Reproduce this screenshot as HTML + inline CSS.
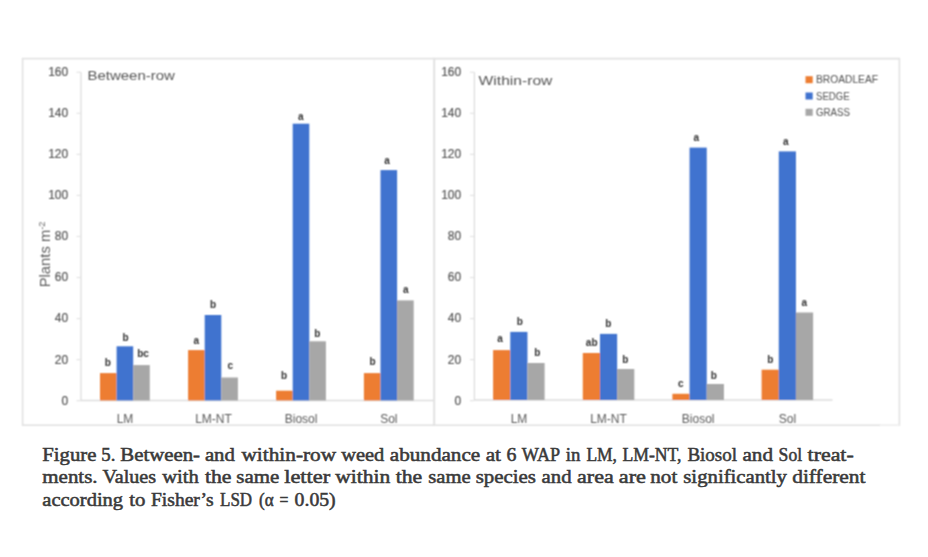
<!DOCTYPE html>
<html><head><meta charset="utf-8"><style>
html,body{margin:0;padding:0;background:#fff;width:928px;height:557px;overflow:hidden}
svg{position:absolute;left:0;top:0;display:block}
text{font-family:"Liberation Sans",sans-serif}
.yl{font-size:12px;fill:#555;stroke:#555;stroke-width:0.2px}
.cl{font-size:12px;fill:#595959}
.dl{font-size:10px;font-weight:bold;fill:#303030}
.tt{font-size:13px;fill:#555}
.at{font-size:14.8px;fill:#5E5E5E}
.lg{font-size:10px;fill:#555;stroke:#555;stroke-width:0.05px}
.cap{font-family:"Liberation Serif",serif;font-size:19px;fill:#3a3a3a;stroke:#3a3a3a;stroke-width:0.55px}
</style></head><body>
<svg width="928" height="557" viewBox="0 0 928 557">
<defs><filter id="sf" x="0" y="0" width="928" height="557" filterUnits="userSpaceOnUse"><feConvolveMatrix order="3" kernelMatrix="1 2 1 2 4 2 1 2 1" preserveAlpha="false" edgeMode="none"/></filter></defs>
<rect width="928" height="557" fill="#fff"/>
<g filter="url(#sf)">
<rect x="22.6" y="58.6" width="411.8" height="366.6" fill="none" stroke="#E2E2E2" stroke-width="1.6"/>
<path d="M880 425.2 H899.4 V58.6 H434.2 V425.2 H880" fill="none" stroke="#E2E2E2" stroke-width="1.6"/>
<line x1="880" y1="425.2" x2="899.4" y2="425.2" stroke="#F2F2F2" stroke-width="2"/>
<line x1="81.0" y1="72.22" x2="81.0" y2="400.5" stroke="#DDDDDD" stroke-width="1.3"/>
<line x1="81.0" y1="400.5" x2="433.5" y2="400.5" stroke="#DDDDDD" stroke-width="1.3"/>
<line x1="76.5" y1="400.70" x2="81.0" y2="400.70" stroke="#E4E4E4" stroke-width="1.2"/>
<text x="68.2" y="404.60" text-anchor="end" class="yl">0</text>
<line x1="76.5" y1="359.64" x2="81.0" y2="359.64" stroke="#E4E4E4" stroke-width="1.2"/>
<text x="68.2" y="363.54" text-anchor="end" class="yl">20</text>
<line x1="76.5" y1="318.58" x2="81.0" y2="318.58" stroke="#E4E4E4" stroke-width="1.2"/>
<text x="68.2" y="322.48" text-anchor="end" class="yl">40</text>
<line x1="76.5" y1="277.52" x2="81.0" y2="277.52" stroke="#E4E4E4" stroke-width="1.2"/>
<text x="68.2" y="281.42" text-anchor="end" class="yl">60</text>
<line x1="76.5" y1="236.46" x2="81.0" y2="236.46" stroke="#E4E4E4" stroke-width="1.2"/>
<text x="68.2" y="240.36" text-anchor="end" class="yl">80</text>
<line x1="76.5" y1="195.40" x2="81.0" y2="195.40" stroke="#E4E4E4" stroke-width="1.2"/>
<text x="68.2" y="199.30" text-anchor="end" class="yl">100</text>
<line x1="76.5" y1="154.34" x2="81.0" y2="154.34" stroke="#E4E4E4" stroke-width="1.2"/>
<text x="68.2" y="158.24" text-anchor="end" class="yl">120</text>
<line x1="76.5" y1="113.28" x2="81.0" y2="113.28" stroke="#E4E4E4" stroke-width="1.2"/>
<text x="68.2" y="117.18" text-anchor="end" class="yl">140</text>
<line x1="76.5" y1="72.22" x2="81.0" y2="72.22" stroke="#E4E4E4" stroke-width="1.2"/>
<text x="68.2" y="76.12" text-anchor="end" class="yl">160</text>
<rect x="100.00" y="373.10" width="16.6" height="27.40" fill="#ED7D31"/>
<text x="107.85" y="366.40" text-anchor="middle" class="dl">b</text>
<rect x="116.60" y="346.30" width="16.6" height="54.20" fill="#4173CF"/>
<text x="125.6" y="340.70" text-anchor="middle" class="dl">b</text>
<rect x="133.20" y="365.10" width="16.6" height="35.40" fill="#A7A7A7"/>
<text x="143.1" y="357.00" text-anchor="middle" class="dl">bc</text>
<text x="125.00" y="423" text-anchor="middle" class="cl">LM</text>
<rect x="188.10" y="350.10" width="16.6" height="50.40" fill="#ED7D31"/>
<text x="196.2" y="344.40" text-anchor="middle" class="dl">a</text>
<rect x="204.70" y="315.00" width="16.6" height="85.50" fill="#4173CF"/>
<text x="213.1" y="307.50" text-anchor="middle" class="dl">b</text>
<rect x="221.30" y="377.50" width="16.6" height="23.00" fill="#A7A7A7"/>
<text x="230.4" y="369.40" text-anchor="middle" class="dl">c</text>
<text x="213.50" y="423" text-anchor="middle" class="cl">LM-NT</text>
<rect x="276.10" y="390.70" width="16.6" height="9.80" fill="#ED7D31"/>
<text x="284" y="379.10" text-anchor="middle" class="dl">b</text>
<rect x="292.70" y="123.70" width="16.6" height="276.80" fill="#4173CF"/>
<text x="300.9" y="119.50" text-anchor="middle" class="dl">a</text>
<rect x="309.30" y="341.30" width="16.6" height="59.20" fill="#A7A7A7"/>
<text x="317.4" y="336.70" text-anchor="middle" class="dl">b</text>
<text x="301.10" y="423" text-anchor="middle" class="cl">Biosol</text>
<rect x="363.90" y="373.10" width="16.6" height="27.40" fill="#ED7D31"/>
<text x="372.6" y="364.70" text-anchor="middle" class="dl">b</text>
<rect x="380.50" y="170.10" width="16.6" height="230.40" fill="#4173CF"/>
<text x="387" y="163.50" text-anchor="middle" class="dl">a</text>
<rect x="397.10" y="300.40" width="16.6" height="100.10" fill="#A7A7A7"/>
<text x="405.8" y="293.40" text-anchor="middle" class="dl">a</text>
<text x="388.80" y="423" text-anchor="middle" class="cl">Sol</text>
<line x1="474.4" y1="72.22" x2="474.4" y2="400.0" stroke="#DDDDDD" stroke-width="1.3"/>
<line x1="474.4" y1="400.0" x2="832.5" y2="400.0" stroke="#DDDDDD" stroke-width="1.3"/>
<line x1="469.9" y1="400.70" x2="474.4" y2="400.70" stroke="#E4E4E4" stroke-width="1.2"/>
<text x="461.2" y="404.60" text-anchor="end" class="yl">0</text>
<line x1="469.9" y1="359.64" x2="474.4" y2="359.64" stroke="#E4E4E4" stroke-width="1.2"/>
<text x="461.2" y="363.54" text-anchor="end" class="yl">20</text>
<line x1="469.9" y1="318.58" x2="474.4" y2="318.58" stroke="#E4E4E4" stroke-width="1.2"/>
<text x="461.2" y="322.48" text-anchor="end" class="yl">40</text>
<line x1="469.9" y1="277.52" x2="474.4" y2="277.52" stroke="#E4E4E4" stroke-width="1.2"/>
<text x="461.2" y="281.42" text-anchor="end" class="yl">60</text>
<line x1="469.9" y1="236.46" x2="474.4" y2="236.46" stroke="#E4E4E4" stroke-width="1.2"/>
<text x="461.2" y="240.36" text-anchor="end" class="yl">80</text>
<line x1="469.9" y1="195.40" x2="474.4" y2="195.40" stroke="#E4E4E4" stroke-width="1.2"/>
<text x="461.2" y="199.30" text-anchor="end" class="yl">100</text>
<line x1="469.9" y1="154.34" x2="474.4" y2="154.34" stroke="#E4E4E4" stroke-width="1.2"/>
<text x="461.2" y="158.24" text-anchor="end" class="yl">120</text>
<line x1="469.9" y1="113.28" x2="474.4" y2="113.28" stroke="#E4E4E4" stroke-width="1.2"/>
<text x="461.2" y="117.18" text-anchor="end" class="yl">140</text>
<line x1="469.9" y1="72.22" x2="474.4" y2="72.22" stroke="#E4E4E4" stroke-width="1.2"/>
<text x="461.2" y="76.12" text-anchor="end" class="yl">160</text>
<rect x="493.10" y="350.10" width="17.17" height="49.90" fill="#ED7D31"/>
<text x="500.1" y="342.20" text-anchor="middle" class="dl">a</text>
<rect x="510.27" y="331.90" width="17.17" height="68.10" fill="#4173CF"/>
<text x="519.7" y="325.30" text-anchor="middle" class="dl">b</text>
<rect x="527.44" y="363.00" width="17.17" height="37.00" fill="#A7A7A7"/>
<text x="537.2" y="355.70" text-anchor="middle" class="dl">b</text>
<text x="519.00" y="423" text-anchor="middle" class="cl">LM</text>
<rect x="582.80" y="353.00" width="17.17" height="47.00" fill="#ED7D31"/>
<text x="591.7" y="345.50" text-anchor="middle" class="dl">ab</text>
<rect x="599.97" y="333.90" width="17.17" height="66.10" fill="#4173CF"/>
<text x="608.4" y="326.60" text-anchor="middle" class="dl">b</text>
<rect x="617.14" y="369.00" width="17.17" height="31.00" fill="#A7A7A7"/>
<text x="625.4" y="362.70" text-anchor="middle" class="dl">b</text>
<text x="608.50" y="423" text-anchor="middle" class="cl">LM-NT</text>
<rect x="672.40" y="393.80" width="17.17" height="6.20" fill="#ED7D31"/>
<text x="680.7" y="387.20" text-anchor="middle" class="dl">c</text>
<rect x="689.57" y="147.60" width="17.17" height="252.40" fill="#4173CF"/>
<text x="696.2" y="141.40" text-anchor="middle" class="dl">a</text>
<rect x="706.74" y="384.00" width="17.17" height="16.00" fill="#A7A7A7"/>
<text x="713.9" y="378.80" text-anchor="middle" class="dl">b</text>
<text x="698.20" y="423" text-anchor="middle" class="cl">Biosol</text>
<rect x="761.60" y="369.70" width="17.17" height="30.30" fill="#ED7D31"/>
<text x="770.4" y="362.50" text-anchor="middle" class="dl">b</text>
<rect x="778.77" y="151.40" width="17.17" height="248.60" fill="#4173CF"/>
<text x="785.9" y="144.90" text-anchor="middle" class="dl">a</text>
<rect x="795.94" y="312.50" width="17.17" height="87.50" fill="#A7A7A7"/>
<text x="804.3" y="305.60" text-anchor="middle" class="dl">a</text>
<text x="787.40" y="423" text-anchor="middle" class="cl">Sol</text>
<text x="87.5" y="79.8" class="tt" textLength="87.3" lengthAdjust="spacingAndGlyphs">Between-row</text>
<text x="478.6" y="84.8" class="tt" textLength="73.8" lengthAdjust="spacingAndGlyphs">Within-row</text>
<text transform="translate(50.3,287.3) rotate(-90)" class="at">Plants m<tspan dy="-5.7" font-size="9.2">-2</tspan></text>
<rect x="805.5" y="76.20" width="7.2" height="7" fill="#ED7D31"/>
<text x="816" y="83.30" class="lg" textLength="62.0" lengthAdjust="spacingAndGlyphs">BROADLEAF</text>
<rect x="805.5" y="92.50" width="7.2" height="7" fill="#4173CF"/>
<text x="816" y="99.60" class="lg" textLength="33.6" lengthAdjust="spacingAndGlyphs">SEDGE</text>
<rect x="805.5" y="108.80" width="7.2" height="7" fill="#A7A7A7"/>
<text x="816" y="115.90" class="lg" textLength="34.0" lengthAdjust="spacingAndGlyphs">GRASS</text>
</g>
<text x="42.30" y="460.6" class="cap" textLength="54.10" lengthAdjust="spacingAndGlyphs">Figure</text>
<text x="101.30" y="460.6" class="cap" textLength="14.10" lengthAdjust="spacingAndGlyphs">5.</text>
<text x="120.30" y="460.6" class="cap" textLength="79.70" lengthAdjust="spacingAndGlyphs">Between-</text>
<text x="204.90" y="460.6" class="cap" textLength="30.00" lengthAdjust="spacingAndGlyphs">and</text>
<text x="241.50" y="460.6" class="cap" textLength="94.60" lengthAdjust="spacingAndGlyphs">within-row</text>
<text x="341.20" y="460.6" class="cap" textLength="43.10" lengthAdjust="spacingAndGlyphs">weed</text>
<text x="389.80" y="460.6" class="cap" textLength="90.40" lengthAdjust="spacingAndGlyphs">abundance</text>
<text x="485.70" y="460.6" class="cap" textLength="15.30" lengthAdjust="spacingAndGlyphs">at</text>
<text x="506.50" y="460.6" class="cap" textLength="9.90" lengthAdjust="spacingAndGlyphs">6</text>
<text x="521.80" y="460.6" class="cap" textLength="38.30" lengthAdjust="spacingAndGlyphs">WAP</text>
<text x="565.70" y="460.6" class="cap" textLength="14.60" lengthAdjust="spacingAndGlyphs">in</text>
<text x="586.40" y="460.6" class="cap" textLength="30.60" lengthAdjust="spacingAndGlyphs">LM,</text>
<text x="622.40" y="460.6" class="cap" textLength="59.10" lengthAdjust="spacingAndGlyphs">LM-NT,</text>
<text x="687.40" y="460.6" class="cap" textLength="49.60" lengthAdjust="spacingAndGlyphs">Biosol</text>
<text x="742.50" y="460.6" class="cap" textLength="30.50" lengthAdjust="spacingAndGlyphs">and</text>
<text x="778.60" y="460.6" class="cap" textLength="23.50" lengthAdjust="spacingAndGlyphs">Sol</text>
<text x="807.60" y="460.6" class="cap" textLength="46.10" lengthAdjust="spacingAndGlyphs">treat-</text>
<text x="42.30" y="483.2" class="cap" textLength="55.30" lengthAdjust="spacingAndGlyphs">ments.</text>
<text x="102.50" y="483.2" class="cap" textLength="53.60" lengthAdjust="spacingAndGlyphs">Values</text>
<text x="162.20" y="483.2" class="cap" textLength="36.60" lengthAdjust="spacingAndGlyphs">with</text>
<text x="204.90" y="483.2" class="cap" textLength="26.50" lengthAdjust="spacingAndGlyphs">the</text>
<text x="236.30" y="483.2" class="cap" textLength="42.90" lengthAdjust="spacingAndGlyphs">same</text>
<text x="284.20" y="483.2" class="cap" textLength="46.00" lengthAdjust="spacingAndGlyphs">letter</text>
<text x="335.20" y="483.2" class="cap" textLength="55.00" lengthAdjust="spacingAndGlyphs">within</text>
<text x="395.70" y="483.2" class="cap" textLength="26.50" lengthAdjust="spacingAndGlyphs">the</text>
<text x="428.30" y="483.2" class="cap" textLength="42.40" lengthAdjust="spacingAndGlyphs">same</text>
<text x="475.70" y="483.2" class="cap" textLength="60.30" lengthAdjust="spacingAndGlyphs">species</text>
<text x="541.60" y="483.2" class="cap" textLength="30.00" lengthAdjust="spacingAndGlyphs">and</text>
<text x="577.10" y="483.2" class="cap" textLength="36.60" lengthAdjust="spacingAndGlyphs">area</text>
<text x="618.80" y="483.2" class="cap" textLength="27.10" lengthAdjust="spacingAndGlyphs">are</text>
<text x="650.30" y="483.2" class="cap" textLength="27.00" lengthAdjust="spacingAndGlyphs">not</text>
<text x="683.30" y="483.2" class="cap" textLength="103.70" lengthAdjust="spacingAndGlyphs">significantly</text>
<text x="792.20" y="483.2" class="cap" textLength="73.30" lengthAdjust="spacingAndGlyphs">different</text>
<text x="42.30" y="505.6" class="cap" textLength="80.80" lengthAdjust="spacingAndGlyphs">according</text>
<text x="129.20" y="505.6" class="cap" textLength="16.20" lengthAdjust="spacingAndGlyphs">to</text>
<text x="151.00" y="505.6" class="cap" textLength="62.60" lengthAdjust="spacingAndGlyphs">Fisher’s</text>
<text x="220.00" y="505.6" class="cap" textLength="32.10" lengthAdjust="spacingAndGlyphs">LSD</text>
<text x="259.10" y="505.6" class="cap" textLength="14.60" lengthAdjust="spacingAndGlyphs">(α</text>
<text x="279.50" y="505.6" class="cap" textLength="8.90" lengthAdjust="spacingAndGlyphs">=</text>
<text x="294.60" y="505.6" class="cap" textLength="41.10" lengthAdjust="spacingAndGlyphs">0.05)</text>
</svg>
</body></html>
